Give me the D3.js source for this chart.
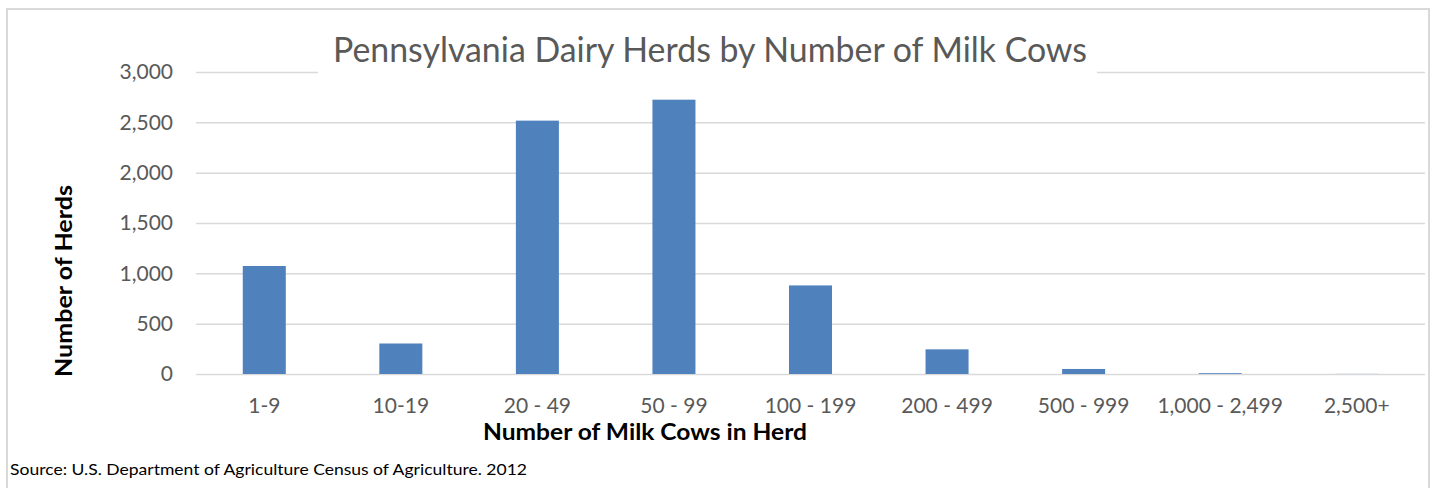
<!DOCTYPE html>
<html>
<head>
<meta charset="utf-8">
<script src="https://cdn.jsdelivr.net/npm/d3@7"></script>
<style>
  body { margin: 0; background: #fff; }
  text { font-family: Lato, "Open Sans", sans-serif; }
</style>
</head>
<body>
<div id="chart"></div>
<script>
// data
var categories = ["1-9", "10-19", "20 - 49", "50 - 99", "100 - 199", "200 - 499", "500 - 999", "1,000 - 2,499", "2,500+"];
var herds = [1073, 303, 2517, 2725, 880, 245, 50, 8, 1];
var yTicks = [0, 500, 1000, 1500, 2000, 2500, 3000];

var svgWidth = 1434;
var svgHeight = 488;

var plot = { left: 196, right: 1425, top: 72, bottom: 374 };
var width = plot.right - plot.left;
var height = plot.bottom - plot.top;

var svg = d3.select("#chart")
  .append("svg")
  .attr("width", svgWidth)
  .attr("height", svgHeight);

// chart frame (runs off the bottom of the picture)
svg.append("rect")
  .attr("x", 7)
  .attr("y", 9)
  .attr("width", 1422)
  .attr("height", 520)
  .attr("fill", "#fff")
  .attr("stroke", "#d9d9d9")
  .attr("stroke-width", 2);

var chartGroup = svg.append("g")
  .attr("transform", `translate(${plot.left}, ${plot.top})`);

var xScale = d3.scaleBand()
  .domain(categories)
  .range([0, width])
  .paddingInner(0.685)
  .paddingOuter(0.3425);

var yScale = d3.scaleLinear()
  .domain([0, 3000])
  .range([height, 0]);

// y axis with gridlines
var leftAxis = d3.axisLeft(yScale)
  .tickValues(yTicks)
  .tickFormat(d3.format(","))
  .tickSizeInner(-width)
  .tickSizeOuter(0)
  .tickPadding(23);

var yAxis = chartGroup.append("g").call(leftAxis);
yAxis.select(".domain").remove();
yAxis.selectAll("line")
  .attr("stroke", "#d9d9d9")
  .attr("stroke-width", 1.5);
yAxis.selectAll("text")
  .attr("fill", "#595959")
  .attr("font-size", 21)
  .attr("font-family", "Lato, sans-serif");

// x axis labels
var bottomAxis = d3.axisBottom(xScale)
  .tickSize(0)
  .tickPadding(24);

var xAxis = chartGroup.append("g")
  .attr("transform", `translate(0, ${height})`)
  .call(bottomAxis);
xAxis.select(".domain").remove();
xAxis.selectAll("text")
  .attr("fill", "#595959")
  .attr("font-size", 21)
  .attr("font-family", "Lato, sans-serif");

// bars
chartGroup.selectAll(".bar")
  .data(herds)
  .enter()
  .append("rect")
  .attr("class", "bar")
  .attr("x", (d, i) => xScale(categories[i]))
  .attr("y", d => yScale(d))
  .attr("width", xScale.bandwidth())
  .attr("height", d => height - yScale(d))
  .attr("fill", "#4f81bd");

// title with white backing over the top gridline
var titleBg = svg.append("rect")
  .attr("fill", "#fff");
var title = svg.append("text")
  .attr("x", 710)
  .attr("y", 62)
  .attr("text-anchor", "middle")
  .attr("fill", "#595959")
  .attr("font-size", 35)
  .attr("textLength", 754)
  .attr("lengthAdjust", "spacingAndGlyphs")
  .text("Pennsylvania Dairy Herds by Number of Milk Cows");
titleBg
  .attr("x", 318)
  .attr("y", 30)
  .attr("width", 779)
  .attr("height", 46);

// axis titles
svg.append("text")
  .attr("transform", "translate(72, 281) rotate(-90)")
  .attr("text-anchor", "middle")
  .attr("font-weight", 700)
  .attr("font-size", 22)
  .attr("fill", "#000")
  .attr("textLength", 192)
  .attr("lengthAdjust", "spacingAndGlyphs")
  .text("Number of Herds");

svg.append("text")
  .attr("x", 645)
  .attr("y", 440)
  .attr("text-anchor", "middle")
  .attr("font-weight", 700)
  .attr("font-size", 22)
  .attr("fill", "#000")
  .attr("textLength", 324)
  .attr("lengthAdjust", "spacingAndGlyphs")
  .text("Number of Milk Cows in Herd");

// source note
svg.append("text")
  .attr("x", 10)
  .attr("y", 475)
  .attr("font-size", 16)
  .attr("fill", "#000")
  .attr("textLength", 517)
  .attr("lengthAdjust", "spacingAndGlyphs")
  .text("Source: U.S. Department of Agriculture Census of Agriculture. 2012");
</script>
</body>
</html>
